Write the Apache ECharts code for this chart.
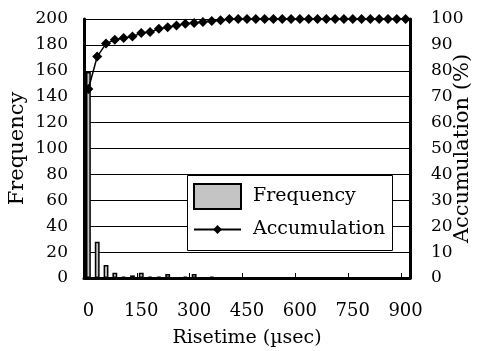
<!DOCTYPE html>
<html>
<head>
<meta charset="utf-8">
<script src="https://cdn.jsdelivr.net/npm/echarts@6/dist/echarts.min.js"></script>
<style>
  html, body { margin: 0; padding: 0; background: #fff; }
  #main { width: 488px; height: 351px; }
</style>
</head>
<body>
<div id="main"></div>
<script>
// risetime bins (usec), step 25
var categories = ['0', '25', '50', '75', '100', '125', '150', '175', '200', '225',
  '250', '275', '300', '325', '350', '375', '400', '425', '450', '475',
  '500', '525', '550', '575', '600', '625', '650', '675', '700', '725',
  '750', '775', '800', '825', '850', '875', '900'];

// counts per bin
var frequency = [159, 28, 10, 4, 1, 2, 4, 1, 1, 3, 0, 1, 3, 0, 1, 0, 0, 0, 0, 0,
  0, 0, 0, 0, 0, 0, 0, 0, 0, 0, 0, 0, 0, 0, 0, 0, 0];

// accumulated share (%)
var accumulation = [73, 85.5, 90.5, 92, 92.7, 93.2, 94.6, 95, 96.2, 96.8,
  97.5, 98.2, 98.5, 98.8, 99.2, 99.5, 100, 100, 100, 100,
  100, 100, 100, 100, 100, 100, 100, 100, 100, 100,
  100, 100, 100, 100, 100, 100, 100];

var font = 'DejaVu Serif';

var chart = echarts.init(document.getElementById('main'), null, { renderer: 'canvas' });

var legendText = { fontFamily: font, fontSize: 19, color: '#000', padding: [0, 0, 0, 7] };

var option = {
  backgroundColor: '#fff',
  animation: false,
  textStyle: { fontFamily: font, color: '#000' },
  grid: { left: 84, right: 78, top: 19, bottom: 73, containLabel: false, outerBoundsMode: 'none' },
  // box around both legends
  graphic: [{
    type: 'rect',
    left: 187,
    top: 175,
    z: 10,
    shape: { width: 205, height: 75 },
    style: { fill: '#fff', stroke: '#000', lineWidth: 1 }
  }],
  legend: [
    {
      left: 193,
      top: 183,
      padding: 0,
      itemWidth: 47,
      itemHeight: 25,
      z: 20,
      textStyle: legendText,
      data: [{ name: 'Frequency', icon: 'rect' }]
    },
    {
      left: 193,
      top: 220,
      padding: 0,
      itemWidth: 47,
      itemHeight: 11,
      z: 20,
      textStyle: legendText,
      data: [{ name: 'Accumulation' }]
    }
  ],
  xAxis: {
    type: 'category',
    data: categories,
    boundaryGap: true,
    name: 'Risetime (µsec)',
    nameLocation: 'middle',
    nameMoveOverlap: false,
    nameGap: 51,
    nameTextStyle: { fontFamily: font, fontSize: 19, color: '#000' },
    axisLine: { lineStyle: { color: '#000', width: 3 } },
    axisTick: { show: true, inside: true, interval: 5, length: 5, lineStyle: { color: '#000', width: 1 } },
    axisLabel: { interval: 5, margin: 24, fontFamily: font, fontSize: 18, color: '#000' },
    splitLine: { show: false }
  },
  yAxis: [
    {
      type: 'value',
      min: 0,
      max: 200,
      interval: 20,
      name: 'Frequency',
      nameLocation: 'middle',
      nameMoveOverlap: false,
      nameRotate: 90,
      nameGap: 56,
      nameTextStyle: { fontFamily: font, fontSize: 21, color: '#000' },
      axisLine: { show: true, lineStyle: { color: '#000', width: 3 } },
      axisTick: { show: false },
      axisLabel: { margin: 16, fontFamily: font, fontSize: 17, color: '#000' },
      splitLine: { show: true, lineStyle: { color: '#000', width: 1 } }
    },
    {
      type: 'value',
      min: 0,
      max: 100,
      interval: 10,
      name: 'Accumulation (%)',
      nameLocation: 'middle',
      nameMoveOverlap: false,
      nameRotate: 90,
      nameGap: 42,
      nameTextStyle: { fontFamily: font, fontSize: 21, color: '#000' },
      axisLine: { show: true, lineStyle: { color: '#000', width: 3 } },
      axisTick: { show: false },
      axisLabel: { margin: 21, fontFamily: font, fontSize: 17, color: '#000' },
      splitLine: { show: false }
    }
  ],
  series: [
    {
      name: 'Frequency',
      type: 'bar',
      data: frequency,
      barWidth: '55%',
      itemStyle: { color: '#c4c4c4', borderColor: '#000', borderWidth: 1.5 },
      z: 2
    },
    {
      name: 'Accumulation',
      type: 'line',
      yAxisIndex: 1,
      data: accumulation,
      symbol: 'diamond',
      symbolSize: 10,
      showAllSymbol: true,
      lineStyle: { color: '#000', width: 1.5 },
      itemStyle: { color: '#000' },
      z: 3
    }
  ]
};

chart.setOption(option);
</script>
</body>
</html>
